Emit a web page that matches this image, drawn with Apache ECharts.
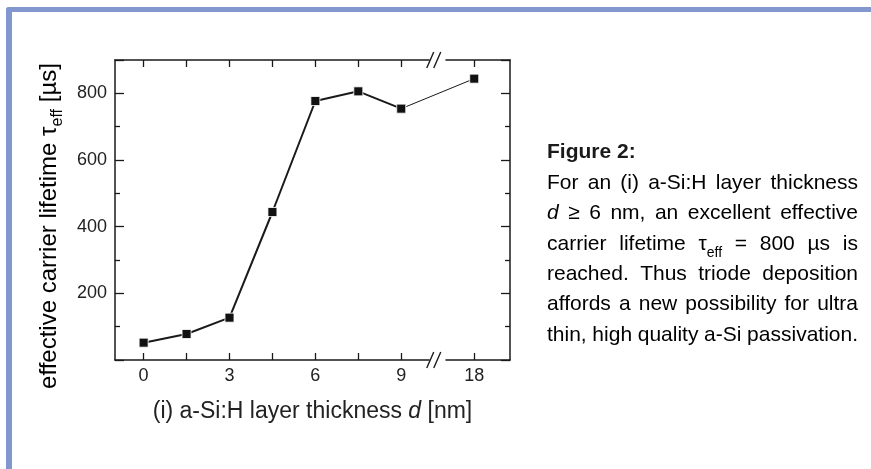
<!DOCTYPE html>
<html>
<head>
<meta charset="utf-8">
<script src="https://cdn.jsdelivr.net/npm/echarts@6/dist/echarts.min.js"></script>
<style>
  html, body { margin: 0; padding: 0; background: #ffffff; }
  #chart { width: 871px; height: 469px; }
</style>
</head>
<body>
<div id="chart"></div>
<script>
// (i) a-Si:H layer thickness d [nm] and measured effective carrier lifetime [µs]
const thickness = [0, 1.5, 3, 4.5, 6, 7.5, 9, 18];
const lifetime = [52, 78, 127, 444, 777, 806, 754, 844];

// Axis ticks and labels
const xTickValues = [0, 1.5, 3, 4.5, 6, 7.5, 9, 18];
const xLabelValues = [0, 3, 6, 9, 18];
const yLabelValues = [200, 400, 600, 800];

// Caption beside the plot
const captionTitle = 'Figure 2:';
const captionLines = [
  'For an (i) a-Si:H layer thickness',
  '{i|d} ≥ 6 nm, an excellent effective',
  'carrier lifetime τ{s|eff} = 800 µs is',
  'reached. Thus triode deposition',
  'affords a new possibility for ultra',
  'thin, high quality a-Si passivation.'
];

const FONT = '"Liberation Sans", Arial, Helvetica, sans-serif';
const INK = '#1a1a1a';

const chart = echarts.init(document.getElementById('chart'), null, { renderer: 'canvas' });

// thick segment up to 9 nm, thin continuation across the axis break
const nBeforeBreak = 7;
const mainPoints = thickness.slice(0, nBeforeBreak).map((x, i) => [x, lifetime[i]]);
const tailPoints = thickness.slice(nBeforeBreak - 1).map((x, i) => [x, lifetime[i + nBeforeBreak - 1]]);

const grid = { left: 115, right: 361, top: 60, bottom: 109 };
const xBreaks = [{ start: 10, end: 17, gap: 0.55 }];

function xAxisDef(position, withLabels) {
  return {
    type: 'value',
    position: position,
    min: -1,
    max: 19.25,
    breaks: xBreaks,
    breakArea: { show: false },
    splitLine: { show: false },
    axisLine: { show: true, onZero: false, lineStyle: { color: INK, width: 1.5 } },
    axisTick: { show: true, inside: true, length: 7, customValues: xTickValues, lineStyle: { color: INK, width: 1.3 } },
    axisLabel: {
      show: withLabels,
      customValues: xLabelValues,
      margin: 7,
      color: '#222',
      fontSize: 18,
      fontFamily: FONT
    },
    name: withLabels ? '{n|(i) a-Si:H layer thickness }{i|d}{n| [nm]}' : '',
    nameLocation: 'middle',
    nameGap: 40,
    nameTextStyle: {
      rich: {
        n: { fontSize: 23, fontFamily: FONT, color: '#222' },
        i: { fontSize: 23, fontFamily: FONT, color: '#222', fontStyle: 'italic' }
      }
    }
  };
}

function yAxisDef(position, withLabels) {
  return {
    type: 'value',
    position: position,
    min: 0,
    max: 900,
    interval: 200,
    splitLine: { show: false },
    axisLine: { show: true, onZero: false, lineStyle: { color: INK, width: 1.5 } },
    axisTick: { show: true, inside: true, length: 9, lineStyle: { color: INK, width: 1.3 } },
    minorTick: { show: true, splitNumber: 2, length: 5, lineStyle: { color: INK, width: 1.3 } },
    axisLabel: {
      show: withLabels,
      customValues: yLabelValues,
      margin: 8,
      color: '#222',
      fontSize: 18,
      fontFamily: FONT
    }
  };
}

// ---- caption: justified lines built word by word ----
const measureCtx = document.createElement('canvas').getContext('2d');
const CAP_SIZE = 21;
const SUB_SIZE = 14;
const capLeft = 547;
const capRight = 858;
const capTitleY = 152;
const capFirstY = 183;
const capPitch = 30.4;

function segFont(kind) {
  if (kind === 'i') return 'italic ' + CAP_SIZE + 'px ' + FONT;
  if (kind === 's') return SUB_SIZE + 'px ' + FONT;
  return CAP_SIZE + 'px ' + FONT;
}
function parseWord(word) {
  const segs = [];
  const re = /\{(\w)\|([^}]*)\}|([^{]+)/g;
  let m;
  while ((m = re.exec(word)) !== null) {
    if (m[1]) segs.push({ kind: m[1], text: m[2] });
    else segs.push({ kind: 'n', text: m[3] });
  }
  return segs;
}
function wordWidth(segs) {
  let w = 0;
  segs.forEach(s => { measureCtx.font = segFont(s.kind); w += measureCtx.measureText(s.text).width; });
  return w;
}
const capRich = {
  n: { fontSize: CAP_SIZE, fontFamily: FONT, color: '#222', lineHeight: 26 },
  i: { fontSize: CAP_SIZE, fontFamily: FONT, color: '#222', fontStyle: 'italic', lineHeight: 26 },
  s: { fontSize: SUB_SIZE, fontFamily: FONT, color: '#222', lineHeight: 26, verticalAlign: 'bottom', padding: [0, 0, -3, 0] }
};

const graphics = [];
// blue frame strips
graphics.push({ type: 'rect', shape: { x: 6, y: 7, width: 865, height: 5, r: [3, 0, 0, 0] }, style: { fill: '#8297cd' }, silent: true });
graphics.push({ type: 'rect', shape: { x: 6, y: 7, width: 6, height: 462, r: [3, 0, 0, 0] }, style: { fill: '#8297cd' }, silent: true });

// y-axis title (rotated)
graphics.push({
  type: 'text',
  x: 49, y: 226,
  rotation: Math.PI / 2,
  style: {
    text: '{a|effective carrier lifetime τ}{s|eff}{a| [µs]}',
    align: 'center',
    verticalAlign: 'middle',
    rich: {
      a: { fontSize: 24, fontFamily: FONT, color: '#222', lineHeight: 30 },
      s: { fontSize: 16, fontFamily: FONT, color: '#222', lineHeight: 30, verticalAlign: 'bottom', padding: [0, 0, -2, 0] }
    }
  },
  silent: true
});

// caption title
graphics.push({
  type: 'text', x: capLeft, y: capTitleY,
  style: { text: captionTitle, font: 'bold 21px ' + FONT, fill: '#1a1a1a', align: 'left', verticalAlign: 'middle' },
  silent: true
});

captionLines.forEach((line, li) => {
  const words = line.split(' ').map(parseWord);
  const widths = words.map(wordWidth);
  const total = widths.reduce((a, b) => a + b, 0);
  const gap = Math.max(3, (capRight - capLeft - total) / (words.length - 1));
  let x = capLeft;
  const y = capFirstY + li * capPitch;
  words.forEach((segs, wi) => {
    graphics.push({
      type: 'text', x: x, y: y,
      style: {
        text: segs.map(s => '{' + s.kind + '|' + s.text + '}').join(''),
        rich: capRich,
        align: 'left',
        verticalAlign: 'middle'
      },
      silent: true
    });
    x += widths[wi] + gap;
  });
});

const option = {
  animation: false,
  backgroundColor: '#ffffff',
  grid: Object.assign({ containLabel: false }, grid),
  xAxis: [xAxisDef('bottom', true), xAxisDef('top', false)],
  yAxis: [yAxisDef('left', true), yAxisDef('right', false)],
  series: [
    {
      type: 'line',
      data: tailPoints,
      xAxisIndex: 0, yAxisIndex: 0,
      z: 2,
      symbol: 'rect', symbolSize: 9,
      lineStyle: { color: INK, width: 1 },
      itemStyle: { color: '#111', borderColor: '#ffffff', borderWidth: 0.8 }
    },
    {
      type: 'line',
      data: mainPoints,
      xAxisIndex: 0, yAxisIndex: 0,
      z: 3,
      symbol: 'rect', symbolSize: 9,
      lineStyle: { color: INK, width: 2 },
      itemStyle: { color: '#111', borderColor: '#ffffff', borderWidth: 0.8 }
    }
  ],
  graphic: graphics
};

chart.setOption(option);

// break marks "//" on the top and bottom axis lines
const bx0 = chart.convertToPixel({ xAxisIndex: 0 }, xBreaks[0].start);
const bx1 = chart.convertToPixel({ xAxisIndex: 0 }, xBreaks[0].end);
const bc = (bx0 + bx1) / 2 - 4;
const yTop = grid.top;
const yBottom = 469 - grid.bottom;
const breakMarks = [];
[yTop, yBottom].forEach(yy => {
  breakMarks.push({ type: 'rect', shape: { x: bc - 4, y: yy - 2, width: 8, height: 4 }, style: { fill: '#ffffff' }, silent: true, z: 50 });
  [-3.5, 3.5].forEach(off => {
    breakMarks.push({
      type: 'line',
      shape: { x1: bc + off - 3.5, y1: yy + 8, x2: bc + off + 3.5, y2: yy - 8 },
      style: { stroke: INK, lineWidth: 1.4 },
      silent: true, z: 51
    });
  });
});
chart.setOption({ graphic: graphics.concat(breakMarks) });
</script>
</body>
</html>
